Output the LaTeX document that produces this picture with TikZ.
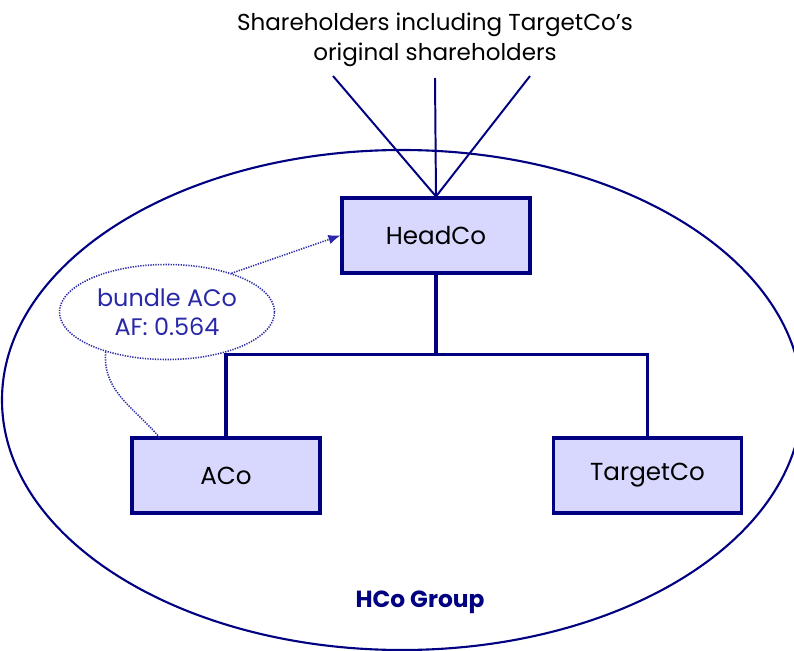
\documentclass[tikz,border=0pt]{standalone}
\usepackage{fontspec}
\setmainfont{Poppins}
\usetikzlibrary{arrows.meta, shapes.geometric}
\definecolor{navy}{HTML}{000080}
\definecolor{boxfill}{HTML}{D8D8FF}
\definecolor{notecol}{HTML}{2828A8}
\tikzset{
  company/.style={draw=navy, line width=2.2pt, fill=boxfill, minimum width=4.7cm, minimum height=1.875cm, font=\fontsize{17.5}{20}\selectfont},
  tree/.style={draw=navy, line width=2.3pt},
  holder/.style={draw=navy, line width=1.4pt},
  note/.style={ellipse, draw=notecol, line width=1.1pt, dash pattern=on 0.9pt off 0.9pt, minimum width=5.375cm, minimum height=2.375cm, align=center, text=notecol, font=\fontsize{17}{21}\selectfont, inner sep=0pt},
  link/.style={draw=notecol, line width=1.1pt, dash pattern=on 0.9pt off 0.9pt},
  every node/.append style={inner sep=0pt}
}
\begin{document}
\begin{tikzpicture}[x=0.025cm, y=-0.025cm]
\useasboundingbox (0,0) rectangle (794,650);
\begin{scope}
\clip (0,0) rectangle (794,650);
\draw[navy, line width=1.5pt] (402,400) ellipse [x radius=400, y radius=250];
\end{scope}

% shareholders on top
\node[align=center, font=\fontsize{16.4}{21.5}\selectfont] (holders) at (435,40) {Shareholders including TargetCo’s\\original shareholders};
\coordinate (sh1) at (333,76);
\coordinate (sh2) at (435,78);
\coordinate (sh3) at (530,76);

% group companies
\node[company] (head) at (436,235.5) {HeadCo};
\node[company] (aco) at (226,475.5) {ACo};
\node[company] (target) at (647.5,475.5) {TargetCo};

\draw[holder] (sh1) -- (head.north);
\draw[holder] (sh2) -- (head.north);
\draw[holder] (sh3) -- (head.north);

\draw[tree] (head.south) -- ++(0,80) coordinate (split);
\draw[tree] (aco.north) |- (split) -| (target.north);

% bundle note
\node[note] (bundle) at (167,312) {bundle ACo\\AF: 0.564};
\coordinate (acocorner) at (160,438);
\draw[link, -{Latex[length=3mm, width=2.4mm]}] (bundle.31) -- (head.west);
\draw[link] (bundle.213) to[out=-95, in=130] (acocorner);

\node[font=\fontsize{16.6}{20}\selectfont\bfseries, text=navy] (group) at (420,602) {HCo Group};
\end{tikzpicture}
\end{document}
